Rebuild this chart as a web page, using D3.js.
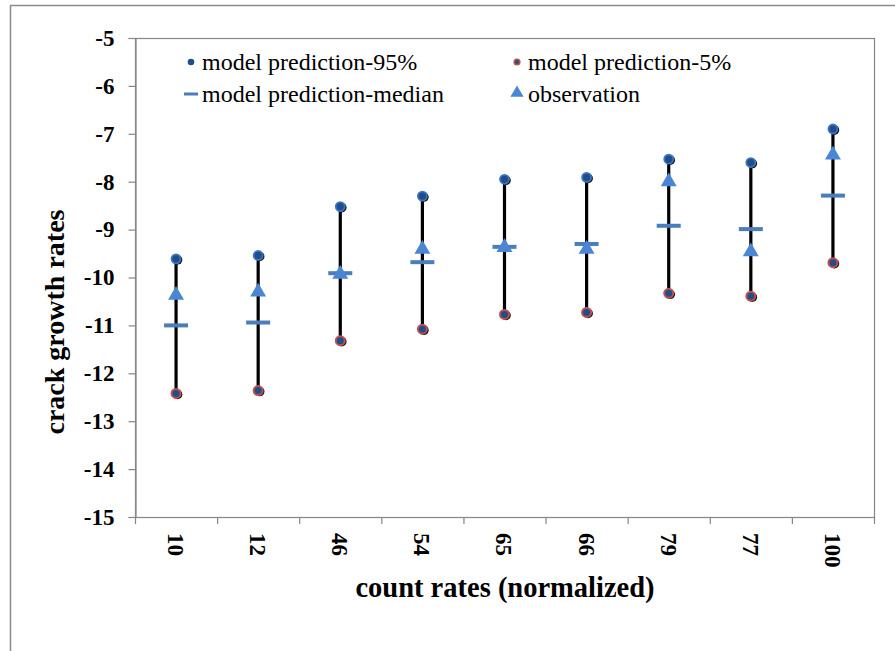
<!DOCTYPE html>
<html>
<head>
<meta charset="utf-8">
<script src="https://cdn.jsdelivr.net/npm/d3@7"></script>
<style>
  html, body { margin: 0; padding: 0; background: #fff; }
  svg { display: block; }
  svg text { font-family: "Liberation Serif", "Times New Roman", serif; }
</style>
</head>
<body>
<svg id="chart" width="895" height="651"></svg>
<script>
// Count-rate categories (normalized) and predicted / observed crack growth rates
const categories = ["10", "12", "46", "54", "65", "66", "79", "77", "100"];
const pred95     = [-9.61, -9.54, -8.52, -8.30, -7.95, -7.91, -7.53, -7.60, -6.90];
const pred5      = [-12.42, -12.36, -11.32, -11.08, -10.77, -10.73, -10.33, -10.39, -9.69];
const predMedian = [-11.00, -10.94, -9.91, -9.68, -9.36, -9.30, -8.92, -8.99, -8.29];
const observed   = [-10.37, -10.30, -9.93, -9.41, -9.37, -9.41, -8.00, -9.46, -7.44];
const yTicks     = [-5, -6, -7, -8, -9, -10, -11, -12, -13, -14, -15];

const svg = d3.select("#chart");
const W = 895, H = 651;
const plot = { left: 135, top: 38, right: 874, bottom: 517 };
const serif = "'Liberation Serif', 'Times New Roman', serif";

const blueDark = "#1F4E8C";
const blueMid = "#3E74C0";
const blueLight = "#4A86D3";
const redRing = "#C0504D";

// Outer frame (top and left edges)
svg.append("path")
  .attr("d", `M10.5,${H} L10.5,5.5 L${W},5.5`)
  .attr("fill", "none").attr("stroke", "#8c8c8c").attr("stroke-width", 1.5);

const x = d3.scaleBand().domain(categories).range([plot.left, plot.right]).padding(0);
const y = d3.scaleLinear().domain([-15, -5]).range([plot.bottom, plot.top]);

// Plot area border
svg.append("rect")
  .attr("x", plot.left + 0.5).attr("y", plot.top + 0.5)
  .attr("width", plot.right - plot.left).attr("height", plot.bottom - plot.top)
  .attr("fill", "none").attr("stroke", "#868686").attr("stroke-width", 1.2);

// Y axis
const yAxis = svg.append("g")
  .attr("transform", `translate(${plot.left + 0.5},0)`)
  .call(d3.axisLeft(y).tickValues(yTicks).tickSize(7).tickPadding(14).tickFormat(d3.format("d")));
yAxis.attr("font-family", null);
yAxis.select(".domain").attr("stroke", "#868686").attr("stroke-width", 1.2);
yAxis.selectAll(".tick line").attr("stroke", "#868686").attr("stroke-width", 1.2);
yAxis.selectAll(".tick text")
  .style("font-family", serif).style("font-size", "23px").style("font-weight", "bold")
  .attr("fill", "#000").text(d => d < 0 ? "-" + Math.abs(d) : d);

// X axis: ticks sit at category boundaries
const bounds = d3.range(categories.length + 1).map(i => plot.left + i * x.bandwidth());
const xAxisG = svg.append("g");
xAxisG.append("line")
  .attr("x1", plot.left).attr("x2", plot.right)
  .attr("y1", plot.bottom + 0.5).attr("y2", plot.bottom + 0.5)
  .attr("stroke", "#868686").attr("stroke-width", 1.2);
xAxisG.selectAll("line.tick").data(bounds).join("line")
  .attr("class", "tick")
  .attr("x1", d => d + 0.5).attr("x2", d => d + 0.5)
  .attr("y1", plot.bottom).attr("y2", plot.bottom + 7)
  .attr("stroke", "#868686").attr("stroke-width", 1.2);
xAxisG.selectAll("text").data(categories).join("text")
  .attr("transform", d => `translate(${x(d) + x.bandwidth() / 2},${plot.bottom + 16}) rotate(90)`)
  .attr("dy", "0.35em")
  .attr("text-anchor", "start")
  .style("font-family", serif).style("font-size", "23px").style("font-weight", "bold")
  .text(d => d);

// Axis titles
svg.append("text")
  .attr("x", 505).attr("y", 597)
  .attr("text-anchor", "middle")
  .style("font-family", serif).style("font-size", "28.5px").style("font-weight", "bold")
  .text("count rates (normalized)");
svg.append("text")
  .attr("transform", `translate(64,322) rotate(-90)`)
  .attr("text-anchor", "middle")
  .style("font-family", serif).style("font-size", "28px").style("font-weight", "bold")
  .text("crack growth rates");

const cx = d => x(d) + x.bandwidth() / 2;
const rows = categories.map((c, i) => ({ c, hi: pred95[i], lo: pred5[i], med: predMedian[i], obs: observed[i] }));

// Prediction range lines (5% to 95%)
const g = svg.append("g");
g.selectAll("line.range").data(rows).join("line")
  .attr("class", "range")
  .attr("x1", d => cx(d.c)).attr("x2", d => cx(d.c))
  .attr("y1", d => y(d.hi)).attr("y2", d => y(d.lo))
  .attr("stroke", "#000").attr("stroke-width", 3.2);

// 95% markers
g.selectAll("circle.shadow95").data(rows).join("circle")
  .attr("cx", d => cx(d.c) + 1.5).attr("cy", d => y(d.hi) + 1)
  .attr("r", 4.8).attr("fill", "#111");
g.selectAll("circle.p95").data(rows).join("circle")
  .attr("cx", d => cx(d.c)).attr("cy", d => y(d.hi))
  .attr("r", 4.5).attr("fill", blueDark).attr("stroke", blueMid).attr("stroke-width", 1.8);

// 5% markers
g.selectAll("circle.shadow5").data(rows).join("circle")
  .attr("cx", d => cx(d.c) + 1.5).attr("cy", d => y(d.lo) + 1)
  .attr("r", 4.8).attr("fill", "#111");
g.selectAll("circle.p5").data(rows).join("circle")
  .attr("cx", d => cx(d.c)).attr("cy", d => y(d.lo))
  .attr("r", 4.5).attr("fill", blueDark).attr("stroke", redRing).attr("stroke-width", 2);

// Median dashes
g.selectAll("rect.med").data(rows).join("rect")
  .attr("x", d => cx(d.c) - 12).attr("y", d => y(d.med) - 2)
  .attr("width", 24).attr("height", 4)
  .attr("fill", "#4A7EBB");

// Observation triangles
const tri = d3.symbol().type(d3.symbolTriangle).size(110);
g.selectAll("path.obs").data(rows).join("path")
  .attr("transform", d => `translate(${cx(d.c)},${y(d.obs)})`)
  .attr("d", tri)
  .attr("fill", blueLight);

// Legend
const leg = svg.append("g");
const items = [
  { label: "model prediction-95%", kind: "p95", mx: 191, ty: 62 },
  { label: "model prediction-5%", kind: "p5", mx: 517, ty: 62 },
  { label: "model prediction-median", kind: "med", mx: 191, ty: 94 },
  { label: "observation", kind: "obs", mx: 517, ty: 94 }
];
items.forEach(it => {
  if (it.kind === "p95") {
    leg.append("circle").attr("cx", it.mx).attr("cy", it.ty).attr("r", 3.3).attr("fill", blueDark);
  } else if (it.kind === "p5") {
    leg.append("circle").attr("cx", it.mx).attr("cy", it.ty).attr("r", 2.8)
      .attr("fill", blueDark).attr("stroke", redRing).attr("stroke-width", 1.6);
  } else if (it.kind === "med") {
    leg.append("rect").attr("x", it.mx - 7).attr("y", it.ty - 1.5).attr("width", 14).attr("height", 3).attr("fill", "#4A7EBB");
  } else {
    leg.append("path").attr("transform", `translate(${it.mx},${it.ty - 1})`)
      .attr("d", d3.symbol().type(d3.symbolTriangle).size(75)).attr("fill", blueLight);
  }
  leg.append("text").attr("x", it.mx + 11).attr("y", it.ty).attr("dy", "0.35em")
    .style("font-family", serif).style("font-size", "24px").attr("fill", "#000")
    .text(it.label);
});
</script>
</body>
</html>
